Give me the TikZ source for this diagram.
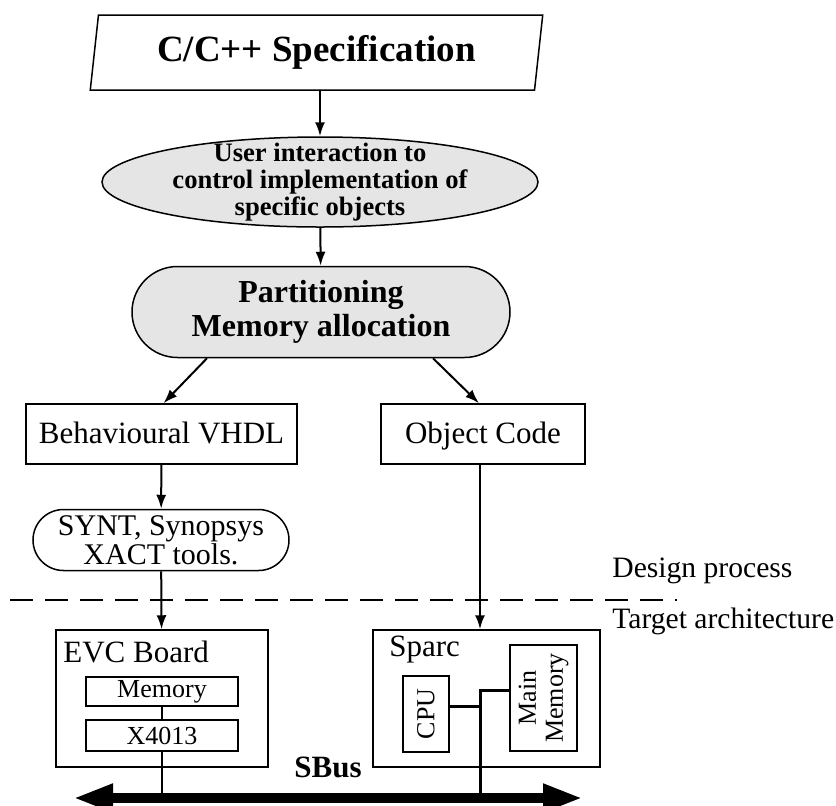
\documentclass[tikz,border=0pt]{standalone}
\usepackage{fontspec}
\setmainfont{Liberation Serif}
\usetikzlibrary{shapes.geometric,arrows.meta}
\tikzset{flowbox/.style={draw,line width=0.75pt,inner sep=0pt,align=center,font=\fontsize{15.5}{17}\selectfont} }
\tikzset{lineone/.style={text height=11.6pt,text depth=2.6pt} }
\tikzset{graynode/.style={draw,line width=0.75pt,fill=black!10,inner sep=0pt,align=center} }
\tikzset{subbox/.style={draw,line width=0.75pt,inner sep=0pt,align=center,font=\fontsize{13}{13.5}\selectfont} }
\tikzset{sidelabel/.style={anchor=base west,inner sep=0pt,font=\fontsize{14.8}{16}\selectfont} }
\tikzset{flow/.style={-{Latex[length=7pt,width=5pt]},line width=1pt} }

\begin{document}
\begin{tikzpicture}[x=0.5pt,y=-0.5pt]
    \useasboundingbox (0,0) rectangle (836,805);
    \node[draw,line width=0.75pt,trapezium,trapezium left angle=80,trapezium right angle=100,trapezium stretches=true,minimum width=226.5pt,minimum height=37.5pt,inner sep=0pt,font=\fontsize{18.5}{20}\selectfont\bfseries] (spec) at (316.5,52.5) {C/C++ Specification};
    \node[graynode,ellipse,inner ysep=-4.5pt,minimum width=218pt,minimum height=45pt,font=\fontsize{13.3}{13.5}\selectfont\bfseries] (user) at (320,182) {User interaction to\\control implementation of\\specific objects};
    \node[graynode,rounded corners=22.75pt,minimum width=189pt,minimum height=45.5pt,font=\fontsize{16}{17}\selectfont\bfseries] (part) at (321,312) {Partitioning\\Memory allocation};
    \node[flowbox,lineone,minimum width=135.5pt,minimum height=30pt] (vhdl) at (161.5,434) {Behavioural VHDL};
    \node[flowbox,lineone,minimum width=102pt,minimum height=30pt] (obj) at (483,434) {Object Code};
    \node[flowbox,rounded corners=15.25pt,minimum width=128pt,minimum height=30.5pt,font=\fontsize{15}{13.5}\selectfont] (synt) at (161,540) {SYNT, Synopsys\\XACT tools.};
    \node[flowbox,minimum width=106pt,minimum height=68.5pt] (evc) at (162,698.5) {};
    \node[sidelabel,font=\fontsize{15.5}{17}\selectfont] (evclabel) at (63,662) {EVC Board};
    \node[subbox,minimum width=76pt,minimum height=14.5pt] (mem) at (162,691.5) {Memory};
    \node[subbox,minimum width=76pt,minimum height=15.5pt] (xchip) at (162,735.5) {X4013};
    \node[flowbox,minimum width=113.5pt,minimum height=68.5pt] (sparc) at (486.5,698.5) {};
    \node[sidelabel,font=\fontsize{15.5}{17}\selectfont] (sparclabel) at (389,656) {Sparc};
    \node[subbox,rotate=90,minimum width=38pt,minimum height=23pt] (cpu) at (426,714) {CPU};
    \node[subbox,rotate=90,minimum width=53pt,minimum height=33.5pt] (mainmem) at (543.5,698) {Main\\Memory};
    \node[sidelabel] (design) at (612,577) {Design process};
    \node[sidelabel] (target) at (612,628) {Target architecture};
    \coordinate (dashL) at (10,600);
    \coordinate (dashR) at (677,600);
    \coordinate (busL) at (73,798);
    \coordinate (busR) at (583,798);
    \coordinate (tap) at (480,798);
    \draw[flow] (spec.south -| user.north) -- (user.north);
    \draw[flow] (user) -- (part);
    \draw[flow] ([xshift=-57pt]part.south) -- ([xshift=1pt]vhdl.north);
    \draw[flow] ([xshift=56pt]part.south) -- ([xshift=-2pt]obj.north);
    \draw[flow] (vhdl) -- (synt);
    \draw[flow] (synt) -- (evc);
    \draw[flow] ([xshift=-1.5pt]obj.south) -- ([xshift=-1.5pt]obj.south |- sparc.north);
    \draw[line width=0.75pt,dash pattern=on 11.5pt off 6pt] (dashL) -- (dashR);
    \draw[line width=0.75pt] (mem.south) -- (xchip.north);
    \draw[line width=1pt] (xchip.south) -- (xchip.south |- busL);
    \draw[line width=1.5pt] ([yshift=4pt]mainmem.north) -| (tap);
    \draw[line width=1.5pt] ([yshift=4pt]cpu.south) -- ([yshift=4pt]cpu.south -| tap);
    \draw[line width=5pt,{Triangle[length=20pt,width=13pt]}-{Triangle[length=20pt,width=13pt]}] (busL) -- node[above=7.5pt,inner sep=0pt,font=\fontsize{15.5}{17}\selectfont\bfseries] (sbus) {SBus} (busR);
\end{tikzpicture}
\end{document}
